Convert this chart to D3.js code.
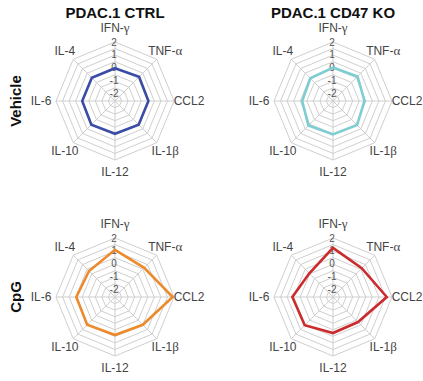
<!DOCTYPE html>
<html>
<head>
<meta charset="utf-8">
<script src="https://cdn.jsdelivr.net/npm/d3@7"></script>
<style>
  body { margin: 0; background: #fff; }
  svg { display: block; font-family: "Liberation Sans", Arial, sans-serif; }
</style>
</head>
<body>
<svg id="chart" width="423" height="381"></svg>
<script>
// cytokine axes, clockwise from the top
var categories = ["IFN-γ", "TNF-α", "CCL2", "IL-1β", "IL-12", "IL-10", "IL-6", "IL-4"];
var columns = ["PDAC.1 CTRL", "PDAC.1 CD47 KO"];
var rows = ["Vehicle", "CpG"];

// z-scores
var vehicleCtrl = [0.0, 0.1, 0.05, 0.05, 0.0, 0.05, 0.0, 0.0];
var vehicleKo   = [0.05, 0.15, -0.1, 0.1, 0.05, 0.15, -0.15, -0.05];
var cpgCtrl     = [1.1, 0.65, 1.9, 0.5, 0.4, 0.5, 0.45, 0.3];
var cpgKo       = [1.25, 0.6, 1.6, 0.2, 0.25, 0.55, 0.6, 0.05];

var tickLabels = [2, 1, 0, -1, -2];
var rings = [-2, -1.5, -1, -0.5, 0, 0.5, 1, 1.5, 2];

var panels = [
  { row: 0, col: 0, values: vehicleCtrl, color: "#3b4ca6" },
  { row: 0, col: 1, values: vehicleKo,   color: "#7dcdd2" },
  { row: 1, col: 0, values: cpgCtrl,     color: "#ec8a2c" },
  { row: 1, col: 1, values: cpgKo,       color: "#cc2b2e" }
];

var centersX = [115, 333];
var centersY = [101, 297];
var R = 59;

var svg = d3.select("#chart");
var r = d3.scaleLinear().domain([-2.5, 2]).range([0, R]);
var angle = d3.scalePoint().domain(d3.range(categories.length + 1)).range([0, 2 * Math.PI]);

var ringLine = d3.lineRadial()
  .angle(function(d, i) { return angle(i); })
  .radius(function(d) { return r(d); })
  .curve(d3.curveLinearClosed);

// column titles
svg.selectAll(".title").data(columns).enter().append("text")
  .attr("class", "title")
  .attr("x", function(d, i) { return centersX[i]; })
  .attr("y", 18)
  .attr("text-anchor", "middle")
  .style("font-size", "15px")
  .style("font-weight", "bold")
  .style("fill", "#111")
  .text(function(d) { return d; });

// row titles
svg.selectAll(".rowlab").data(rows).enter().append("text")
  .attr("class", "rowlab")
  .attr("transform", function(d, i) { return "translate(21," + centersY[i] + ") rotate(-90)"; })
  .attr("text-anchor", "middle")
  .style("font-size", "15px")
  .style("font-weight", "bold")
  .style("fill", "#111")
  .text(function(d) { return d; });

panels.forEach(function(p) {
  var g = svg.append("g")
    .attr("transform", "translate(" + centersX[p.col] + "," + centersY[p.row] + ")");

  // rings
  g.selectAll(".ring").data(rings).enter().append("path")
    .attr("class", "ring")
    .attr("d", function(v) { return ringLine(categories.map(function() { return v; })); })
    .attr("fill", "none")
    .attr("stroke", "#cfcfcf")
    .attr("stroke-width", 1);

  // spokes
  g.selectAll(".spoke").data(categories).enter().append("line")
    .attr("class", "spoke")
    .attr("x1", 0).attr("y1", 0)
    .attr("x2", function(d, i) { return R * Math.sin(angle(i)); })
    .attr("y2", function(d, i) { return -R * Math.cos(angle(i)); })
    .attr("stroke", "#cfcfcf")
    .attr("stroke-width", 1);

  // tick labels up the top spoke
  g.selectAll(".tick").data(tickLabels).enter().append("text")
    .attr("class", "tick")
    .attr("x", -1)
    .attr("y", function(d) { return -r(d) + (d === 2 ? 0 : -1); })
    .attr("dy", "0.35em")
    .attr("text-anchor", "middle")
    .style("font-size", "10px")
    .style("fill", "#555")
    .text(function(d) { return d; });

  // data polygon
  g.append("path")
    .datum(p.values)
    .attr("d", ringLine)
    .attr("fill", "none")
    .attr("stroke", p.color)
    .attr("stroke-width", 2.6)
    .attr("stroke-linejoin", "miter");

  // axis labels, greek letters in a serif face
  var lab = g.selectAll(".axlab").data(categories).enter().append("text")
    .attr("class", "axlab")
    .attr("x", function(d, i) { return 71 * Math.sin(angle(i)) + (i === 2 ? 3 : 0) + (i === 6 ? -3 : 0); })
    .attr("y", function(d, i) { return -71 * Math.cos(angle(i)) + (i === 0 ? -2 : 0); })
    .attr("dy", "0.35em")
    .attr("text-anchor", "middle")
    .style("font-size", "12px")
    .style("fill", "#444");
  lab.append("tspan").text(function(d) { return d.replace(/[αβγ]/, ""); });
  lab.append("tspan")
    .style("font-family", "'Liberation Serif', 'DejaVu Serif', serif")
    .style("font-size", "13px")
    .text(function(d) { var m = d.match(/[αβγ]/); return m ? m[0] : ""; });
});
</script>
</body>
</html>
